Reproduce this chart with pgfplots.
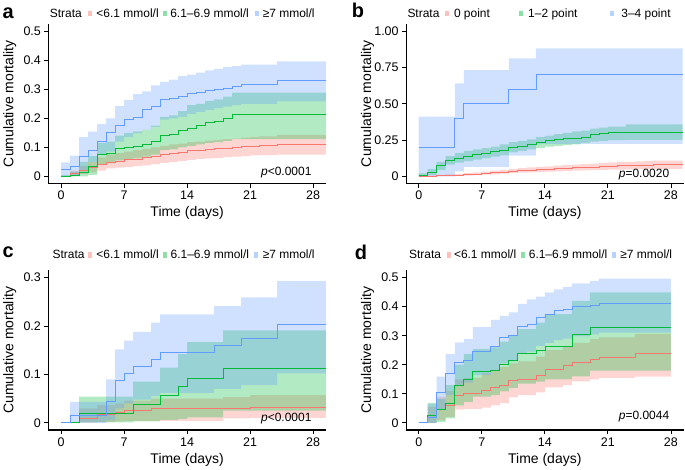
\documentclass[border=0pt]{standalone}
\usepackage{fontspec}
\setmainfont{Liberation Sans}
\usepackage{pgfplots}
\usepackage{pgfplotstable}
\pgfplotsset{compat=1.18}
\usepgfplotslibrary{fillbetween}

\definecolor{cR}{HTML}{F8766D}
\definecolor{cG}{HTML}{00BA38}
\definecolor{cB}{HTML}{619CFF}

% panel a: fasting glucose strata
\pgfplotstableread{
t s lo hi
0 0.000 0.000 0.000
1 0.010 0.002 0.020
2 0.020 0.008 0.035
3 0.030 0.014 0.050
4 0.040 0.020 0.065
5 0.050 0.027 0.075
6 0.053 0.030 0.080
7 0.057 0.032 0.085
8 0.060 0.035 0.090
9 0.065 0.038 0.095
10 0.070 0.042 0.100
11 0.075 0.046 0.105
12 0.080 0.050 0.110
13 0.083 0.053 0.113
14 0.088 0.057 0.118
15 0.090 0.060 0.120
16 0.093 0.062 0.123
17 0.095 0.064 0.126
18 0.098 0.066 0.128
19 0.100 0.068 0.130
20 0.103 0.070 0.133
21 0.105 0.072 0.135
22 0.107 0.073 0.138
24 0.110 0.075 0.143
29.4 0.110 0.075 0.143
}\aR
\pgfplotstableread{
t s lo hi
0 0.000 0.000 0.005
1 0.005 0.000 0.015
2 0.015 0.000 0.050
3 0.035 0.005 0.070
4 0.075 0.040 0.115
5 0.080 0.045 0.120
6 0.095 0.055 0.140
7 0.100 0.060 0.150
8 0.105 0.062 0.155
9 0.110 0.068 0.160
10 0.120 0.075 0.175
11 0.140 0.090 0.205
12 0.145 0.093 0.210
13 0.160 0.100 0.225
14 0.165 0.105 0.245
15 0.175 0.110 0.250
16 0.185 0.115 0.260
17 0.190 0.118 0.265
18 0.200 0.122 0.275
19 0.212 0.128 0.288
29.4 0.212 0.128 0.288
}\aG
\pgfplotstableread{
t s lo hi
0 0.023 0.000 0.048
1 0.034 0.005 0.071
2 0.068 0.020 0.135
3 0.090 0.050 0.154
4 0.120 0.075 0.180
5 0.150 0.085 0.200
6 0.175 0.120 0.242
7 0.195 0.135 0.263
8 0.205 0.148 0.283
9 0.230 0.160 0.293
10 0.240 0.170 0.313
11 0.265 0.195 0.325
12 0.270 0.200 0.333
13 0.275 0.205 0.345
14 0.285 0.215 0.350
15 0.290 0.222 0.357
16 0.295 0.228 0.365
17 0.300 0.235 0.370
18 0.305 0.240 0.377
19 0.310 0.245 0.380
20 0.316 0.250 0.385
24 0.331 0.258 0.396
29.4 0.331 0.258 0.396
}\aB

% panel b: score strata
\pgfplotstableread{
t s lo hi
0 0.000 0.000 0.002
1 0.002 0.000 0.006
2 0.004 0.001 0.010
3 0.006 0.002 0.013
4 0.008 0.003 0.016
5 0.012 0.005 0.022
6 0.016 0.008 0.028
7 0.020 0.011 0.033
8 0.025 0.014 0.039
9 0.030 0.018 0.045
10 0.035 0.022 0.050
11 0.040 0.026 0.057
12 0.043 0.028 0.061
13 0.047 0.031 0.065
14 0.050 0.033 0.069
15 0.053 0.035 0.073
16 0.056 0.037 0.077
17 0.059 0.039 0.081
18 0.062 0.041 0.084
19 0.065 0.043 0.088
20 0.068 0.045 0.092
21 0.070 0.046 0.094
22 0.073 0.047 0.098
23 0.075 0.048 0.100
24 0.077 0.049 0.103
25 0.079 0.050 0.106
26 0.081 0.051 0.109
29.3 0.081 0.051 0.109
}\bR
\pgfplotstableread{
t s lo hi
0 0.010 0.000 0.020
1 0.025 0.010 0.050
2 0.075 0.045 0.100
3 0.110 0.080 0.140
4 0.127 0.095 0.160
5 0.140 0.105 0.175
6 0.155 0.115 0.185
7 0.160 0.125 0.195
8 0.170 0.135 0.205
9 0.180 0.145 0.220
10 0.200 0.165 0.235
11 0.210 0.175 0.245
12 0.220 0.185 0.255
13 0.235 0.195 0.270
14 0.247 0.205 0.280
15 0.252 0.210 0.290
16 0.260 0.215 0.300
17 0.265 0.220 0.310
18 0.272 0.230 0.315
19 0.293 0.240 0.328
20 0.298 0.245 0.335
21 0.303 0.250 0.342
23 0.305 0.252 0.358
29.3 0.305 0.252 0.358
}\bG
\pgfplotstableread{
t s lo hi
0 0.200 0.000 0.411
4 0.400 0.035 0.640
5 0.500 0.065 0.732
10 0.600 0.143 0.813
13 0.700 0.224 0.882
29.3 0.700 0.224 0.882
}\bB

% panel c
\pgfplotstableread{
t s lo hi
0 0.000 0.000 0.000
2 0.010 0.001 0.030
4 0.018 0.002 0.037
6 0.021 0.003 0.040
7 0.026 0.004 0.046
10 0.030 0.004 0.050
18 0.031 0.009 0.053
21 0.033 0.010 0.057
29.4 0.033 0.010 0.057
}\cR
\pgfplotstableread{
t s lo hi
0 0.000 0.000 0.000
2 0.020 0.001 0.054
8 0.038 0.003 0.085
11 0.057 0.006 0.114
13 0.075 0.008 0.142
14 0.093 0.011 0.167
18 0.112 0.025 0.191
29.4 0.112 0.025 0.191
}\cG
\pgfplotstableread{
t s lo hi
0 0.000 0.000 0.000
1 0.015 0.000 0.043
5 0.045 0.005 0.090
6 0.087 0.030 0.152
7 0.102 0.040 0.170
8 0.117 0.048 0.188
10 0.132 0.055 0.207
11 0.145 0.062 0.224
17 0.161 0.070 0.241
20 0.174 0.078 0.259
24 0.204 0.102 0.293
29.4 0.204 0.102 0.293
}\cB

% panel d
\pgfplotstableread{
t s lo hi
0 0.000 0.000 0.000
1 0.020 0.000 0.055
2 0.046 0.008 0.090
3 0.060 0.020 0.110
4 0.096 0.045 0.150
5 0.100 0.048 0.155
7 0.111 0.052 0.170
8 0.122 0.060 0.182
9 0.130 0.068 0.192
10 0.145 0.088 0.205
11 0.151 0.095 0.212
13 0.162 0.105 0.228
14 0.185 0.122 0.250
16 0.197 0.130 0.262
17 0.208 0.143 0.275
19 0.220 0.150 0.288
20 0.225 0.155 0.294
24 0.239 0.159 0.306
28 0.239 0.159 0.306
}\dR
\pgfplotstableread{
t s lo hi
0 0.000 0.000 0.000
1 0.025 0.000 0.068
2 0.046 0.003 0.082
3 0.068 0.015 0.130
4 0.130 0.060 0.200
5 0.151 0.072 0.237
6 0.176 0.090 0.254
8 0.180 0.095 0.260
9 0.200 0.108 0.280
10 0.216 0.120 0.300
11 0.239 0.135 0.323
13 0.250 0.142 0.345
14 0.265 0.150 0.374
17 0.305 0.160 0.420
19 0.328 0.180 0.449
28 0.328 0.180 0.449
}\dG
\pgfplotstableread{
t s lo hi
0 0.000 0.000 0.000
1 0.020 0.000 0.065
2 0.105 0.045 0.159
3 0.170 0.095 0.237
4 0.208 0.130 0.277
5 0.215 0.138 0.288
6 0.248 0.165 0.330
8 0.265 0.180 0.355
9 0.294 0.205 0.368
10 0.300 0.212 0.380
11 0.334 0.240 0.410
12 0.340 0.245 0.425
13 0.363 0.265 0.435
14 0.374 0.275 0.449
15 0.386 0.285 0.460
16 0.390 0.290 0.468
17 0.400 0.298 0.480
19 0.405 0.305 0.489
20 0.412 0.311 0.497
28 0.412 0.311 0.497
}\dB

\newcommand\curve[2]{\addplot[const plot, #2, line width=0.6pt, forget plot] table[x=t,y=s]{#1};}
\newcommand\band[3]{%
  \addplot[const plot, draw=none, forget plot, name path=h#3] table[x=t,y=hi]{#1};
  \addplot[const plot, draw=none, forget plot, name path=l#3] table[x=t,y=lo]{#1};
  \addplot[fill=#2, fill opacity=0.3, draw=none, forget plot] fill between[of=h#3 and l#3];
}
\newcommand\lkey[3]{\fill[#1!45] (#2pt,#3pt-2.8pt) rectangle (#2pt+4pt,#3pt+2.8pt);}
\newcommand\ltxt[3]{\node[anchor=base west, inner sep=0pt, font=\fontsize{12}{14}\selectfont] at (#1pt,#2pt) {#3};}

\pgfplotsset{km/.style={
  width=278pt, height=160pt, scale only axis,
  xmin=-1.4, xmax=29.4, xtick={0,7,14,21,28},
  axis lines=left, axis line style={-, line width=1.2pt},
  tick align=outside, major tick length=4pt,
  tick style={black, line width=0.8pt},
  ticklabel style={font=\fontsize{12.5}{14}\selectfont},
  /pgf/number format/assume math mode=true,
  xlabel={Time (days)}, ylabel={Cumulative mortality},
  label style={font=\fontsize{14}{16}\selectfont},
  xlabel style={at={(axis description cs:0.5,-0.185)}, anchor=center},
  ylabel style={at={(axis description cs:-0.139,0.5)}, anchor=center},
}}

\begin{document}
\begin{tikzpicture}
\path (0pt,0pt) rectangle (685pt,470pt);

\begin{axis}[km, at={(47pt,286pt)}, anchor=south west,
  ymin=-0.025, ymax=0.525, ytick={0,0.1,0.2,0.3,0.4,0.5},
  yticklabels={0,0.1,0.2,0.3,0.4,0.5}]
\curve{\aR}{cR} \curve{\aG}{cG} \curve{\aB}{cB}
\band{\aR}{cR}{ar} \band{\aG}{cG}{ag} \band{\aB}{cB}{ab}
\node[anchor=east, font=\fontsize{12}{14}\selectfont] at (axis cs:28.2,0.013) {\textit{p}<0.0001};
\end{axis}

\begin{axis}[km, at={(405.5pt,286pt)}, anchor=south west,
  ymin=-0.05, ymax=1.05, ytick={0,0.25,0.5,0.75,1},
  yticklabels={0,0.25,0.50,0.75,1.00}]
\curve{\bR}{cR} \curve{\bG}{cG} \curve{\bB}{cB}
\band{\bR}{cR}{br} \band{\bG}{cG}{bg} \band{\bB}{cB}{bb}
\node[anchor=east, font=\fontsize{12}{14}\selectfont] at (axis cs:28.2,0.01) {\textit{p}=0.0020};
\end{axis}

\begin{axis}[km, at={(47pt,39pt)}, anchor=south west,
  ymin=-0.015, ymax=0.315, ytick={0,0.1,0.2,0.3},
  yticklabels={0,0.1,0.2,0.3}]
\curve{\cR}{cR} \curve{\cG}{cG} \curve{\cB}{cB}
\band{\cR}{cR}{cr} \band{\cG}{cG}{cg} \band{\cB}{cB}{cb}
\node[anchor=east, font=\fontsize{12}{14}\selectfont] at (axis cs:28.2,0.008) {\textit{p}<0.0001};
\end{axis}

\begin{axis}[km, at={(405.5pt,39pt)}, anchor=south west,
  ymin=-0.025, ymax=0.525, ytick={0,0.1,0.2,0.3,0.4,0.5},
  yticklabels={0,0.1,0.2,0.3,0.4,0.5}]
\curve{\dR}{cR} \curve{\dG}{cG} \curve{\dB}{cB}
\band{\dR}{cR}{dr} \band{\dG}{cG}{dg} \band{\dB}{cB}{db}
\node[anchor=east, font=\fontsize{12}{14}\selectfont] at (axis cs:28.2,0.02) {\textit{p}=0.0044};
\end{axis}

% panel letters
\node[anchor=base west, inner sep=0pt, font=\fontsize{20}{22}\selectfont\bfseries] at (1pt,451.7pt) {a};
\node[anchor=base west, inner sep=0pt, font=\fontsize{20}{22}\selectfont\bfseries] at (351pt,452.7pt) {b};
\node[anchor=base west, inner sep=0pt, font=\fontsize{20}{22}\selectfont\bfseries] at (1pt,211.7pt) {c};
\node[anchor=base west, inner sep=0pt, font=\fontsize{20}{22}\selectfont\bfseries] at (354pt,210pt) {d};

% legends
\ltxt{48.3}{452.4}{Strata}
\lkey{cR}{87}{456.4} \ltxt{95}{452.4}{<6.1 mmol/l}
\lkey{cG}{162}{456.4} \ltxt{169}{452.4}{6.1–6.9 mmol/l}
\lkey{cB}{254}{456.4} \ltxt{261.7}{452.4}{≥7 mmol/l}

\ltxt{406.7}{452.4}{Strata}
\lkey{cR}{444.3}{456.4} \ltxt{453.3}{452.4}{0 point}
\lkey{cG}{519}{456.4} \ltxt{527.7}{452.4}{1–2 point}
\lkey{cB}{610.3}{456.4} \ltxt{621}{452.4}{3–4 point}

\ltxt{51}{210.7}{Strata}
\lkey{cR}{86.7}{214.7} \ltxt{95}{210.7}{<6.1 mmol/l}
\lkey{cG}{162.3}{214.7} \ltxt{169.3}{210.7}{6.1–6.9 mmol/l}
\lkey{cB}{253.3}{214.7} \ltxt{261.7}{210.7}{≥7 mmol/l}

\ltxt{408.3}{210.7}{Strata}
\lkey{cR}{446}{214.7} \ltxt{453.3}{210.7}{<6.1 mmol/l}
\lkey{cG}{521}{214.7} \ltxt{528.3}{210.7}{6.1–6.9 mmol/l}
\lkey{cB}{612.3}{214.7} \ltxt{620}{210.7}{≥7 mmol/l}
\end{tikzpicture}
\end{document}
